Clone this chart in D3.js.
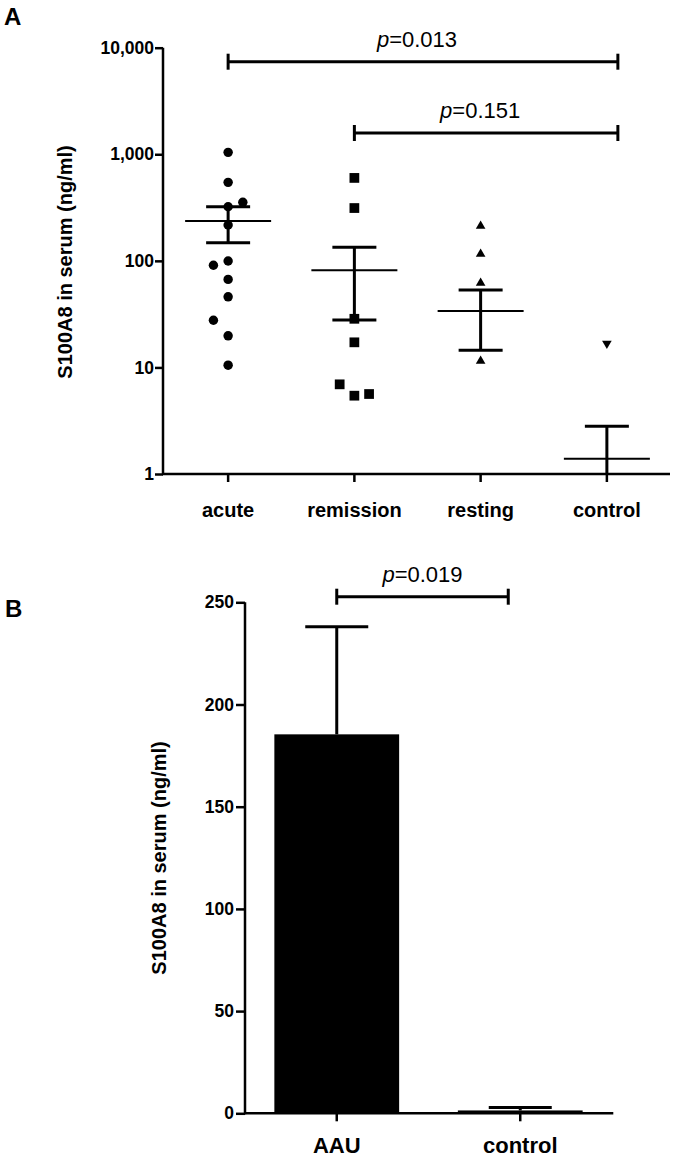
<!DOCTYPE html>
<html>
<head>
<meta charset="utf-8">
<script src="https://cdn.jsdelivr.net/npm/d3@7"></script>
<style>
  body { margin: 0; background: #fff; }
  text { font-family: "Liberation Sans", Arial, sans-serif; fill: #000; }
</style>
</head>
<body>
<script>
// ---- Data ----
// Panel A: S100A8 per patient group (log scale)
var groupsA = ["acute", "remission", "resting", "control"];
var ticksA = [1, 10, 100, 1000, 10000];

var acuteVals = [1042, 545, 354, 322, 217, 99.6, 91, 67, 46, 27.7, 19.8, 10.5];
var acuteSlot = [0, 0, 1, 0, 0, 0, -1, 0, 0, -1, 0, 0];
var remissionVals = [600, 313, 28.6, 17.2, 6.94, 5.43, 5.63];
var remissionSlot = [0, 0, 0, 0, -1, 0, 1];
var restingVals = [212, 116, 62, 11.5];
var restingSlot = [0, 0, 0, 0];
var controlVals = [16.8];
var controlSlot = [0];

var meanA = [236, 81.5, 33.8, 1.39];
var semHiA = [322, 134, 53.2, 2.8];
var semLoA = [148, 27.8, 14.5, 0.7];

var pairsA = [["acute", "control"], ["remission", "control"]];
var pLabelsA = ["0.013", "0.151"];

// Panel B: AAU vs control (mean + SEM)
var groupsB = ["AAU", "control"];
var ticksB = [0, 50, 100, 150, 200, 250];
var meanB = [185.4, 1.4];
var semHiB = [238, 2.8];
var pairsB = [["AAU", "control"]];
var pLabelsB = ["0.019"];

// ---- Chart params ----
var svgWidth = 675;
var svgHeight = 1158;

var svg = d3.select("body")
  .append("svg")
  .attr("width", svgWidth)
  .attr("height", svgHeight);

var axisW = 2.5;

// ================= Panel A =================
var xA = d3.scaleBand().domain(groupsA).range([165, 670]);
var yA = d3.scaleLog().domain([1, 10000]).range([474, 47.7]);

var gA = svg.append("g");

// y axis
var leftA = d3.axisLeft(yA).tickValues(ticksA).tickFormat(d3.format(",")).tickSize(8).tickPadding(1);
var yAxA = gA.append("g").attr("transform", "translate(163,0)").call(leftA);
yAxA.select(".domain").remove();
yAxA.selectAll(".tick line").attr("stroke", "#000").attr("stroke-width", axisW);
yAxA.selectAll(".tick text").attr("font-size", "17.5px").attr("font-weight", "bold");
gA.append("line").attr("x1", 163).attr("x2", 163).attr("y1", yA(10000)).attr("y2", yA(1) + 1)
  .attr("stroke", "#000").attr("stroke-width", axisW);

// x axis
var bottomA = d3.axisBottom(xA).tickSize(8).tickPadding(21);
var xAxA = gA.append("g").attr("transform", "translate(0,474)").call(bottomA);
xAxA.select(".domain").remove();
xAxA.selectAll(".tick line").attr("stroke", "#000").attr("stroke-width", axisW);
xAxA.selectAll(".tick text").attr("font-size", "20px").attr("font-weight", "bold");
gA.append("line").attr("x1", 162).attr("x2", 670).attr("y1", 474).attr("y2", 474)
  .attr("stroke", "#000").attr("stroke-width", axisW);

// y label
gA.append("text")
  .attr("transform", "translate(72,262) rotate(-90)")
  .attr("text-anchor", "middle")
  .attr("font-size", "20px")
  .attr("font-weight", "bold")
  .text("S100A8 in serum (ng/ml)");

// points
var slotGap = 14.7;
var ptsA = [
  { g: "acute", vals: acuteVals, slot: acuteSlot, sym: d3.symbolCircle, size: 70, rot: 0 },
  { g: "remission", vals: remissionVals, slot: remissionSlot, sym: d3.symbolSquare, size: 95, rot: 0 },
  { g: "resting", vals: restingVals, slot: restingSlot, sym: d3.symbolTriangle, size: 40, rot: 0 },
  { g: "control", vals: controlVals, slot: controlSlot, sym: d3.symbolTriangle, size: 40, rot: 180 }
];
ptsA.forEach(function(s) {
  gA.selectAll(null)
    .data(s.vals)
    .enter()
    .append("path")
    .attr("d", d3.symbol().type(s.sym).size(s.size))
    .attr("transform", function(d, i) {
      var cx = xA(s.g) + xA.bandwidth() / 2 + s.slot[i] * slotGap;
      return "translate(" + cx + "," + yA(d) + ") rotate(" + s.rot + ")";
    })
    .attr("fill", "#000");
});

// mean +/- SEM
groupsA.forEach(function(g, i) {
  var cx = xA(g) + xA.bandwidth() / 2;
  var yHi = yA(semHiA[i]);
  var yLo = Math.min(yA(semLoA[i]), 474);
  gA.append("line").attr("x1", cx).attr("x2", cx).attr("y1", yHi).attr("y2", yLo)
    .attr("stroke", "#000").attr("stroke-width", 3);
  gA.append("line").attr("x1", cx - 43).attr("x2", cx + 43).attr("y1", yA(meanA[i])).attr("y2", yA(meanA[i]))
    .attr("stroke", "#000").attr("stroke-width", 2);
  gA.append("line").attr("x1", cx - 22).attr("x2", cx + 22).attr("y1", yHi).attr("y2", yHi)
    .attr("stroke", "#000").attr("stroke-width", 3);
  if (yA(semLoA[i]) < 474) {
    gA.append("line").attr("x1", cx - 22).attr("x2", cx + 22).attr("y1", yLo).attr("y2", yLo)
      .attr("stroke", "#000").attr("stroke-width", 3);
  }
});

// significance bars
function sigBar(g, x1, x2, y, label, dx) {
  g.append("line").attr("x1", x1).attr("x2", x2).attr("y1", y).attr("y2", y)
    .attr("stroke", "#000").attr("stroke-width", 3);
  [x1, x2].forEach(function(x) {
    g.append("line").attr("x1", x).attr("x2", x).attr("y1", y - 8).attr("y2", y + 8)
      .attr("stroke", "#000").attr("stroke-width", 3);
  });
  var t = g.append("text")
    .attr("x", (x1 + x2) / 2 + dx)
    .attr("y", y - 15)
    .attr("text-anchor", "middle")
    .attr("font-size", "22px");
  t.append("tspan").attr("font-style", "italic").text("p");
  t.append("tspan").text("=" + label);
}

var sigYA = [61.7, 133];
var cA = function(g) { return xA(g) + xA.bandwidth() / 2; };
pairsA.forEach(function(p, i) {
  sigBar(gA, cA(p[0]), cA(p[1]) + 11, sigYA[i], pLabelsA[i], -6);
});

// panel letter
svg.append("text").attr("x", 4).attr("y", 25).attr("font-size", "24px").attr("font-weight", "bold").text("A");

// ================= Panel B =================
var xB = d3.scaleBand().domain(groupsB).range([245, 612]).paddingInner(0.32).paddingOuter(0.16);
var yB = d3.scaleLinear().domain([0, 250]).range([1113.3, 602.3]);

var gB = svg.append("g");

// bars
gB.selectAll("rect")
  .data(meanB)
  .enter()
  .append("rect")
  .attr("x", function(d, i) { return xB(groupsB[i]); })
  .attr("width", xB.bandwidth())
  .attr("y", function(d) { return yB(d); })
  .attr("height", function(d) { return yB(0) - yB(d); })
  .attr("fill", "#000");

// error bars (upper only)
groupsB.forEach(function(g, i) {
  var cx = xB(g) + xB.bandwidth() / 2;
  var yHi = yB(semHiB[i]);
  gB.append("line").attr("x1", cx).attr("x2", cx).attr("y1", yHi).attr("y2", yB(meanB[i]))
    .attr("stroke", "#000").attr("stroke-width", 3);
  gB.append("line").attr("x1", cx - 31.5).attr("x2", cx + 31.5).attr("y1", yHi).attr("y2", yHi)
    .attr("stroke", "#000").attr("stroke-width", 3);
});

// axes
var leftB = d3.axisLeft(yB).tickValues(ticksB).tickSize(9).tickPadding(2);
var yAxB = gB.append("g").attr("transform", "translate(245,0)").call(leftB);
yAxB.select(".domain").remove();
yAxB.selectAll(".tick line").attr("stroke", "#000").attr("stroke-width", axisW);
yAxB.selectAll(".tick text").attr("font-size", "17.5px").attr("font-weight", "bold");
gB.append("line").attr("x1", 245).attr("x2", 245).attr("y1", yB(250)).attr("y2", yB(0) + 1)
  .attr("stroke", "#000").attr("stroke-width", axisW);

var bottomB = d3.axisBottom(xB).tickSize(8).tickPadding(16);
var xAxB = gB.append("g").attr("transform", "translate(0,1113.3)").call(bottomB);
xAxB.select(".domain").remove();
xAxB.selectAll(".tick line").attr("stroke", "#000").attr("stroke-width", axisW);
xAxB.selectAll(".tick text").attr("font-size", "22px").attr("font-weight", "bold");
gB.append("line").attr("x1", 244).attr("x2", 613.3).attr("y1", 1113.3).attr("y2", 1113.3)
  .attr("stroke", "#000").attr("stroke-width", axisW);

// y label
gB.append("text")
  .attr("transform", "translate(166,858) rotate(-90)")
  .attr("text-anchor", "middle")
  .attr("font-size", "20px")
  .attr("font-weight", "bold")
  .text("S100A8 in serum (ng/ml)");

var cB = function(g) { return xB(g) + xB.bandwidth() / 2; };
pairsB.forEach(function(p, i) {
  sigBar(gB, cB(p[0]), cB(p[1]) - 12, 596.7, pLabelsB[i], 0);
});

svg.append("text").attr("x", 5).attr("y", 617).attr("font-size", "24px").attr("font-weight", "bold").text("B");
</script>
</body>
</html>
